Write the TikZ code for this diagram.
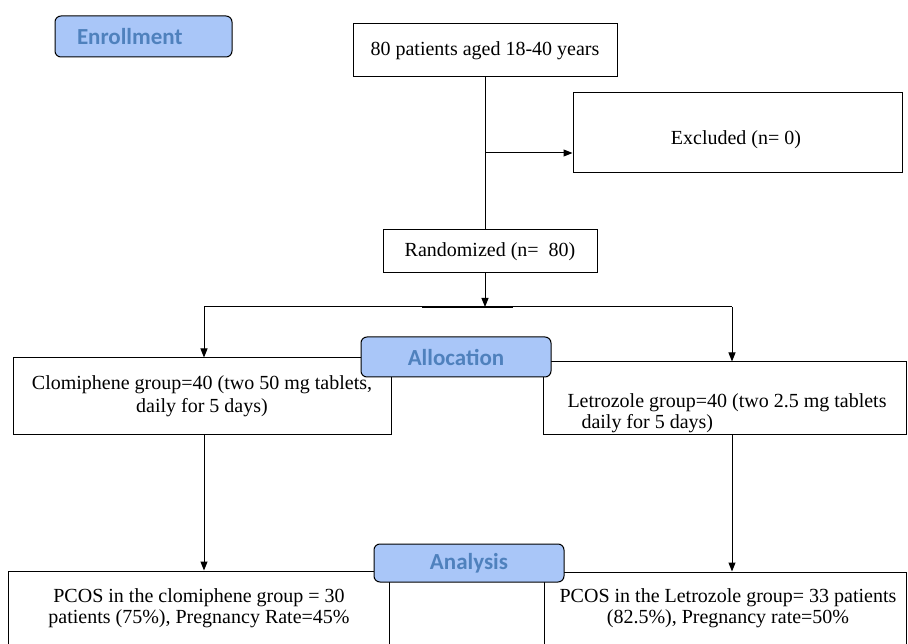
\documentclass[tikz,border=0pt]{standalone}
\usepackage{fontspec}
\setmainfont{Liberation Serif}
\newfontfamily\labelfont{Carlito}
\usetikzlibrary{arrows.meta}
\definecolor{lblfill}{HTML}{A9C6F8}
\definecolor{lbltext}{HTML}{4F81BD}
\begin{document}
\begin{tikzpicture}[x=1pt,y=-1pt,
  box/.style={draw=black, line width=1pt, fill=white, inner sep=0pt,
    font=\fontsize{20}{23}\selectfont, align=center},
  txt/.style={inner sep=0pt, font=\fontsize{20}{21}\selectfont, align=center},
  stage/.style={draw=black, line width=1pt, fill=lblfill, rounded corners=6pt,
    inner sep=0pt, font=\labelfont\bfseries\fontsize{23}{26}\selectfont, text=lbltext},
  arr/.style={-{Triangle[length=9pt,width=7pt]}, line width=1pt},
  conn/.style={line width=1pt}]
\useasboundingbox (0,0) rectangle (908,644);
\clip (0,0) rectangle (908,644);
\fill[white] (0,0) rectangle (908,644);

% boxes
\node[box, minimum width=264pt, minimum height=53pt] (top) at (485,50.5) {80 patients aged 18-40 years};
\node[box, minimum width=329pt, minimum height=80pt] (excl) at (737.5,133) {};
\node[txt] (exclT) at (736,140) {Excluded (n= 0)};
\node[box, minimum width=214pt, minimum height=43pt] (rand) at (490,251.5) {Randomized (n=\hspace{10pt}80)};
\node[box, minimum width=378pt, minimum height=76pt] (clo) at (202,396) {Clomiphene group=40 (two 50 mg tablets,\\daily for 5 days)};
\node[box, minimum width=363pt, minimum height=72pt] (let) at (724.5,398) {};
\node[txt, align=left] (letT) at (727,413)
  {Letrozole group=40 (two 2.5 mg tablets\\\hspace*{14pt}daily for 5 days)};
\node[box, minimum width=381pt, minimum height=90pt] (bl) at (198.5,616) {};
\node[txt] (blT) at (199,608) {PCOS in the clomiphene group = 30\\patients (75\%), Pregnancy Rate=45\%};
\node[box, minimum width=155pt, minimum height=90pt] (bm) at (466.5,616) {};
\node[box, minimum width=362pt, minimum height=90pt] (br) at (725,617) {};
\node[txt] (brT) at (728,608) {PCOS in the Letrozole group= 33 patients\\(82.5\%), Pregnancy rate=50\%};

% connectors
\coordinate (branch) at (485,153);
\coordinate (hmid) at (485,307);
\coordinate (hL) at (204,307);
\coordinate (hR) at (732,307);
\coordinate (thickL) at (422,307);
\coordinate (thickR) at (513,307);
\draw[conn] (top.south -| branch) -- (branch |- rand.north);
\draw[arr] (branch) -- (branch -| excl.west);
\draw[arr] (branch |- rand.south) -- (hmid);
\draw[conn] (hL) -- (hR);
\draw[line width=2.2pt] (thickL) -- (thickR);
\draw[arr] (hL) -- (hL |- clo.north);
\draw[arr] (hR) -- (hR |- let.north);
\draw[arr] (hL |- clo.south) -- (hL |- bl.north);
\draw[arr] (hR |- let.south) -- (hR |- br.north);

% stage labels
\node[stage, text width=177pt, minimum height=41pt, align=left] (enr) at (143.5,36.5) {\hspace*{22pt}Enrollment};
\node[stage, minimum width=190pt, minimum height=40pt] (alloc) at (456,357) {Allocation};
\node[stage, minimum width=190pt, minimum height=38pt] (anal) at (469,563) {Analysis};
\end{tikzpicture}
\end{document}
